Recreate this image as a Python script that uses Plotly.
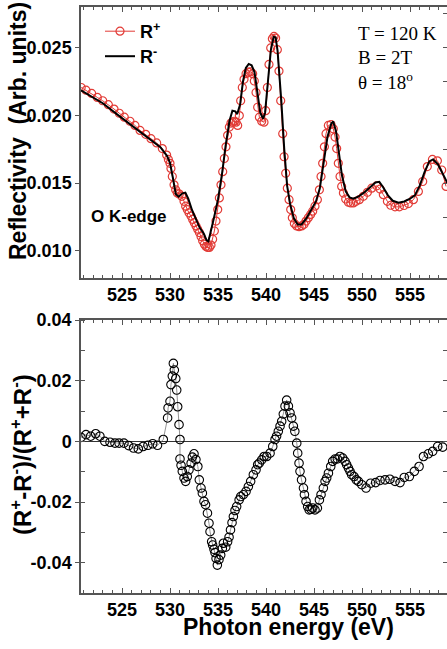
import plotly.graph_objects as go

# ---------------- data ----------------
rplus_x = [520.75, 521.25, 521.84, 522.43, 522.99, 523.58, 524.17, 524.72, 525.24, 525.83,
           526.35, 526.88, 527.47, 528.02, 528.61, 529.2, 529.65, 529.83, 530.0, 530.1,
           530.24, 530.42, 530.59, 530.76, 530.97, 531.22, 531.46, 531.63, 531.8, 531.98,
           532.19, 532.36, 532.53, 532.71, 532.88, 533.06, 533.23, 533.4, 533.58, 533.75,
           533.92, 534.1, 534.27, 534.44, 534.62, 534.79, 534.97, 535.14, 535.31, 535.49,
           535.66, 535.83, 536.0, 536.18, 536.35, 536.53, 536.7, 536.88, 537.05, 537.22,
           537.36, 537.53, 537.71, 537.92, 538.16, 538.4, 538.61, 538.78, 538.96, 539.13,
           539.31, 539.55, 539.79, 539.97, 540.14, 540.31, 540.49, 540.66, 540.83, 541.0,
           541.18, 541.35, 541.53, 541.74, 541.88, 542.05, 542.22, 542.4, 542.57, 542.74,
           542.95, 543.19, 543.44, 543.72, 543.96, 544.17, 544.41, 544.65, 544.86, 545.1,
           545.35, 545.56, 545.73, 545.9, 546.08, 546.25, 546.49, 546.77, 547.01, 547.19,
           547.36, 547.53, 547.71, 547.88, 548.06, 548.3, 548.58, 548.82, 549.1, 549.38,
           549.72, 550.14, 550.56, 551.01, 551.53, 551.88, 552.22, 552.64, 552.99, 553.44,
           553.89, 554.38, 554.83, 555.35, 555.87, 556.32, 556.8, 557.33, 557.85, 558.3,
           558.75]
rplus_y = [0.02206, 0.02186, 0.02162, 0.02133, 0.02108, 0.02079, 0.02047, 0.02016, 0.01987, 0.01957,
           0.01926, 0.01889, 0.01860, 0.01828, 0.01797, 0.01755, 0.01707, 0.01675, 0.01646, 0.01609,
           0.01549, 0.01488, 0.01451, 0.01427, 0.01420, 0.01403, 0.01366, 0.01330, 0.01305, 0.01281,
           0.01257, 0.01232, 0.01208, 0.01184, 0.01160, 0.01135, 0.01106, 0.01074, 0.01050, 0.01033,
           0.01026, 0.01026, 0.01043, 0.01086, 0.01147, 0.01220, 0.01305, 0.01391, 0.01488, 0.01585,
           0.01682, 0.01768, 0.01853, 0.01914, 0.01943, 0.01950, 0.01957, 0.01950, 0.01926, 0.01999,
           0.02108, 0.02206, 0.02266, 0.02308, 0.02320, 0.02322, 0.02308, 0.02254, 0.02169, 0.02060,
           0.01987, 0.01957, 0.01950, 0.02035, 0.02206, 0.02376, 0.02498, 0.02566, 0.02583, 0.02571,
           0.02485, 0.02327, 0.02108, 0.01865, 0.01695, 0.01573, 0.01463, 0.01378, 0.01305, 0.01244,
           0.01203, 0.01184, 0.01179, 0.01184, 0.01196, 0.01220, 0.01245, 0.01269, 0.01293, 0.01330,
           0.01378, 0.01451, 0.01549, 0.01646, 0.01768, 0.01865, 0.01926, 0.01933, 0.01901, 0.01840,
           0.01755, 0.01646, 0.01549, 0.01476, 0.01427, 0.01383, 0.01359, 0.01354, 0.01354, 0.01366,
           0.01378, 0.01403, 0.01432, 0.01463, 0.01480, 0.01456, 0.01415, 0.01366, 0.01337, 0.01325,
           0.01325, 0.01335, 0.01349, 0.01378, 0.01439, 0.01512, 0.01622, 0.01675, 0.01665, 0.01597,
           0.01476]

rminus_x = [520.73, 523.0, 525.0, 527.0, 529.0, 529.7, 530.0, 530.3, 530.6, 530.9,
            531.3, 531.6, 531.9, 532.3, 532.7, 533.1, 533.5, 533.8, 534.0, 534.3,
            534.6, 535.0, 535.4, 535.8, 536.2, 536.5, 536.8, 537.0, 537.3, 537.6,
            537.9, 538.2, 538.5, 538.8, 539.1, 539.4, 539.7, 539.9, 540.2, 540.5,
            540.8, 541.0, 541.2, 541.4, 541.6, 541.9, 542.2, 542.5, 542.9, 543.3,
            543.7, 544.2, 544.7, 545.2, 545.6, 546.0, 546.4, 546.8, 547.0, 547.3,
            547.6, 547.9, 548.3, 548.7, 549.1, 549.6, 550.2, 550.8, 551.4, 551.8,
            552.2, 552.7, 553.2, 553.8, 554.4, 555.0, 555.5, 556.0, 556.5, 557.0,
            557.4, 557.9, 558.4, 558.9]
rminus_y = [0.02185, 0.02090, 0.01980, 0.01875, 0.01765, 0.01700, 0.01650, 0.01540, 0.01420, 0.01400,
            0.01425, 0.01430, 0.01385, 0.01300, 0.01230, 0.01170, 0.01130, 0.01080, 0.01070, 0.01150,
            0.01250, 0.01380, 0.01560, 0.01780, 0.01960, 0.02035, 0.02030, 0.02010, 0.02080, 0.02250,
            0.02350, 0.02380, 0.02370, 0.02320, 0.02150, 0.02020, 0.01975, 0.02020, 0.02250, 0.02480,
            0.02580, 0.02575, 0.02480, 0.02300, 0.02100, 0.01750, 0.01480, 0.01350, 0.01240, 0.01195,
            0.01195, 0.01240, 0.01300, 0.01365, 0.01460, 0.01650, 0.01840, 0.01940, 0.01955, 0.01880,
            0.01720, 0.01560, 0.01440, 0.01395, 0.01385, 0.01400, 0.01430, 0.01470, 0.01505, 0.01510,
            0.01470, 0.01410, 0.01370, 0.01355, 0.01365, 0.01385, 0.01410, 0.01480, 0.01580, 0.01660,
            0.01675, 0.01640, 0.01570, 0.01500]

asym_x = [520.73, 521.25, 521.74, 522.26, 522.7, 523.2, 523.75, 524.27, 524.7, 525.2,
          525.7, 526.2, 526.7, 527.2, 527.7, 528.2, 528.7, 529.3, 529.75, 529.8,
          530.0, 530.1, 530.24, 530.35, 530.45, 530.6, 530.7, 530.8, 530.94, 531.04,
          531.04, 531.15, 531.28, 531.46, 531.63, 531.8, 531.98, 532.2, 532.33, 532.5,
          532.7, 532.9, 533.05, 533.23, 533.37, 533.54, 533.7, 533.9, 534.06, 534.17,
          534.34, 534.44, 534.58, 534.69, 534.8, 534.93, 535.1, 535.28, 535.45, 535.56,
          535.8, 536.0, 536.15, 536.3, 536.46, 536.6, 536.77, 536.94, 537.2, 537.36,
          537.64, 537.92, 538.16, 538.4, 538.68, 538.96, 539.13, 539.3, 539.55, 539.8,
          540.07, 540.42, 540.7, 540.94, 541.1, 541.28, 541.46, 541.63, 541.8, 541.98,
          542.15, 542.33, 542.5, 542.67, 542.85, 543.0, 543.2, 543.3, 543.44, 543.54,
          543.7, 543.9, 544.0, 544.17, 544.34, 544.5, 544.7, 544.86, 545.1, 545.35,
          545.56, 545.73, 545.97, 546.15, 546.32, 546.5, 546.74, 546.94, 547.2, 547.43,
          547.7, 547.99, 548.23, 548.4, 548.58, 548.75, 548.92, 549.17, 549.4, 549.62,
          549.97, 550.42, 550.9, 551.42, 551.88, 552.4, 552.9, 553.44, 553.96, 554.4,
          554.93, 555.45, 555.94, 556.4, 556.9, 557.36, 557.88, 558.4]
asym_y = [0.0013, 0.0022, 0.0017, 0.0025, 0.0017, 0.0000, -0.0003, -0.0006, -0.0006, -0.0006,
          -0.0014, -0.0022, -0.0025, -0.0017, -0.0013, -0.0008, -0.0013, 0.0006, 0.0077, 0.0110,
          0.0132, 0.0187, 0.0215, 0.0257, 0.0235, 0.0207, 0.0169, 0.0114, 0.0055, 0.0006,
          -0.0058, -0.0079, -0.0099, -0.0121, -0.0132, -0.0116, -0.0094, -0.0072, -0.0052, -0.0041,
          -0.0060, -0.0083, -0.0127, -0.0154, -0.0171, -0.0198, -0.0209, -0.0237, -0.0270, -0.0298,
          -0.0331, -0.0342, -0.0356, -0.0367, -0.0386, -0.0408, -0.0390, -0.0375, -0.0353, -0.0336,
          -0.0349, -0.0331, -0.0316, -0.0292, -0.0268, -0.0248, -0.0228, -0.0215, -0.0193, -0.0182,
          -0.0176, -0.0165, -0.0149, -0.0132, -0.0110, -0.0094, -0.0077, -0.0072, -0.0061, -0.0050,
          -0.0050, -0.0039, -0.0017, 0.0006, 0.0017, 0.0033, 0.0050, 0.0066, 0.0090, 0.0116,
          0.0136, 0.0116, 0.0094, 0.0077, 0.0050, 0.0033, -0.0006, -0.0039, -0.0072, -0.0099,
          -0.0127, -0.0154, -0.0176, -0.0198, -0.0215, -0.0226, -0.0224, -0.0220, -0.0226, -0.0220,
          -0.0193, -0.0176, -0.0154, -0.0132, -0.0121, -0.0105, -0.0083, -0.0066, -0.0058, -0.0058,
          -0.0050, -0.0055, -0.0066, -0.0077, -0.0088, -0.0099, -0.0110, -0.0116, -0.0127, -0.0132,
          -0.0143, -0.0154, -0.0138, -0.0136, -0.0129, -0.0127, -0.0125, -0.0132, -0.0136, -0.0119,
          -0.0116, -0.0099, -0.0083, -0.0050, -0.0041, -0.0033, -0.0017, -0.0019]

x_range = [520.73, 558.85]
top_y_range = [0.008, 0.028]
bot_y_range = [-0.05, 0.04]
top_y_ticks = [0.010, 0.015, 0.020, 0.025]
top_y_labels = ["0.010", "0.015", "0.020", "0.025"]
bot_y_ticks = [0.04, 0.02, 0.0, -0.02, -0.04]
bot_y_labels = ["0.04", "0.02", "0", "-0.02", "-0.04"]

# ---------------- layout geometry ----------------
W, H = 447, 649
L, R, T, B = 81, 0, 7, 56
PW = W - L - R
PH = H - T - B


def px(x):
    return (x - L) / PW


def py(y):
    return (H - B - y) / PH


top_dom = [py(278), 1.0]
bot_dom = [0.0, py(320)]

SANS = "Liberation Sans, Arial, sans-serif"
SERIF = "Liberation Serif, Times New Roman, serif"
AX = "#555555"
RED = "#e23b36"
legfont = dict(family=SANS, size=18, color="black", weight="bold")

fig = go.Figure()
fig.add_trace(go.Scatter(x=rplus_x, y=rplus_y, mode="lines+markers", name="R<sup>+</sup>",
                         line=dict(color=RED, width=1),
                         marker=dict(symbol="circle-open", size=8, color=RED, line=dict(width=1.2)),
                         xaxis="x", yaxis="y", legend="legend"))
fig.add_trace(go.Scatter(x=rminus_x, y=rminus_y, mode="lines", name="R<sup>-</sup>",
                         line=dict(color="black", width=2), xaxis="x", yaxis="y", legend="legend2"))
fig.add_trace(go.Scatter(x=asym_x, y=asym_y, mode="lines+markers", showlegend=False,
                         line=dict(color="#777777", width=0.8),
                         marker=dict(symbol="circle-open", size=8.5, color="black", line=dict(width=1.1)),
                         xaxis="x2", yaxis="y2"))
# invisible traces for right-side tick axes
fig.add_trace(go.Scatter(x=[], y=[], xaxis="x", yaxis="y3", showlegend=False, hoverinfo="skip"))
fig.add_trace(go.Scatter(x=[], y=[], xaxis="x2", yaxis="y4", showlegend=False, hoverinfo="skip"))

tickfont = dict(family=SANS, size=18, color="black", weight="bold")

xcommon = dict(range=x_range, tick0=525, dtick=5, ticks="inside", ticklen=5, tickwidth=1,
               tickcolor=AX, showline=True, linecolor=AX, linewidth=1.5, mirror="ticks",
               showgrid=False, zeroline=False, tickfont=tickfont, automargin=False,
               minor=dict(dtick=1, tick0=525, ticks="inside", ticklen=3, tickcolor=AX, showgrid=False))

fig.update_layout(
    width=W, height=H,
    margin=dict(l=L, r=R, t=T, b=B, autoexpand=False),
    paper_bgcolor="white", plot_bgcolor="white",
    showlegend=True,
    legend=dict(x=px(100), y=py(13), xanchor="left", yanchor="top", font=legfont,
                bgcolor="rgba(0,0,0,0)"),
    legend2=dict(x=px(100), y=py(38), xanchor="left", yanchor="top", font=legfont,
                 bgcolor="rgba(0,0,0,0)"),
    xaxis=dict(anchor="y", domain=[0, 1], **xcommon),
    xaxis2=dict(anchor="y2", domain=[0, 1], **xcommon),
    yaxis=dict(domain=top_dom, anchor="x", range=top_y_range, tickvals=top_y_ticks,
               ticktext=top_y_labels, ticks="outside", ticklen=4, tickcolor=AX,
               showline=True, linecolor=AX, linewidth=1.5, showgrid=False, zeroline=False,
               tickfont=tickfont, automargin=False),
    yaxis3=dict(overlaying="y", side="right", anchor="x", range=top_y_range, dtick=0.0025,
                tick0=0.0, ticks="inside", ticklen=4, tickcolor=AX, showticklabels=False,
                showline=True, linecolor=AX, linewidth=1.5, showgrid=False, zeroline=False,
                automargin=False),
    yaxis2=dict(domain=bot_dom, anchor="x2", range=bot_y_range, tickvals=bot_y_ticks,
                ticktext=bot_y_labels, ticks="outside", ticklen=4, tickcolor=AX,
                showline=True, linecolor=AX, linewidth=1.5, showgrid=False,
                zeroline=True, zerolinecolor="#333333", zerolinewidth=1.2,
                tickfont=tickfont, automargin=False,
                minor=dict(dtick=0.01, tick0=0, ticks="inside", ticklen=4, tickcolor=AX, showgrid=False)),
    yaxis4=dict(overlaying="y2", side="right", anchor="x2", range=bot_y_range, dtick=0.01,
                tick0=0.0, ticks="inside", ticklen=4, tickcolor=AX, showticklabels=False,
                showline=True, linecolor=AX, linewidth=1.5, showgrid=False, zeroline=False,
                automargin=False),
)

ann = []
ann.append(dict(text="Reflectivity\u00a0\u00a0(Arb. units)", x=px(18), y=py(131), textangle=-90,
                font=dict(family=SANS, size=23, color="black", weight="bold")))
ann.append(dict(text="(R<sup>+</sup>-R<sup>-</sup>)/(R<sup>+</sup>+R<sup>-</sup>)", x=px(21), y=py(455),
                textangle=-90, font=dict(family=SANS, size=24, color="black", weight="bold")))
ann.append(dict(text="Photon energy (eV)", x=px(288), y=py(627),
                font=dict(family=SANS, size=23, color="black", weight="bold")))
ann.append(dict(text="O K-edge", x=px(89), y=py(216), xanchor="left",
                font=dict(family=SANS, size=17, color="black", weight="bold")))
for txt, yy in [("T = 120 K", 33), ("B = 2T", 58), ("\u03b8 = 18<sup>o</sup>", 81)]:
    ann.append(dict(text=txt, x=px(356), y=py(yy), xanchor="left",
                    font=dict(family=SERIF, size=19, color="black")))
for a in ann:
    a.setdefault("xanchor", "center")
    a.update(xref="paper", yref="paper", showarrow=False, yanchor="middle")
fig.update_layout(annotations=ann)

fig.write_html("out.html", config={"displayModeBar": False},
               post_script="document.body.style.margin='0px';")
